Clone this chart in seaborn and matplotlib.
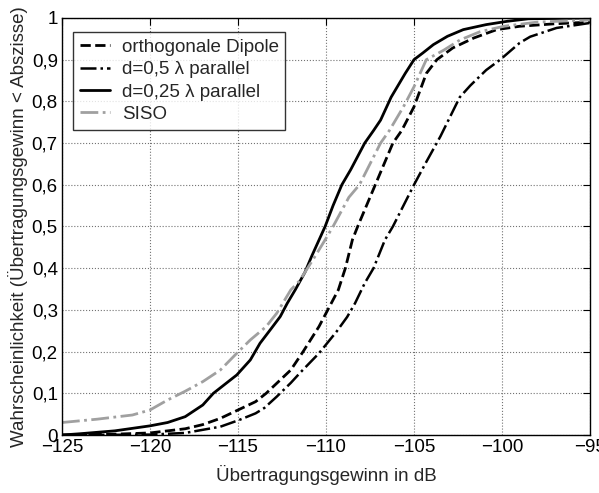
import numpy as np
import pandas as pd
import matplotlib
matplotlib.use("Agg")
import matplotlib.pyplot as plt
import seaborn as sns

# ---- data ----
orth_x = [-125, -122, -120, -118, -117, -116, -115, -114, -113.4, -112.0, -111.3, -110.4,
          -109.8, -109.3, -108.9, -108.5, -108.2, -107.8, -107.2, -106.2,
          -105.7, -105.0, -104.3, -103.7, -102.8, -101.6, -100.3, -99.0, -97, -95]
orth_y = [0.0, 0.002, 0.005, 0.015, 0.025, 0.04, 0.06, 0.08, 0.10, 0.156, 0.20, 0.26,
          0.308, 0.348, 0.40, 0.468, 0.50, 0.54, 0.60, 0.70,
          0.73, 0.787, 0.867, 0.90, 0.928, 0.952, 0.972, 0.98, 0.986, 0.99]

d05_x = [-125, -120, -118, -116, -115, -114.7, -114, -113.5, -112.8, -112, -111.5, -110.4,
         -109.4, -108.8, -108.35, -107.8, -107.3, -106.65, -106.2, -105.6, -105.0, -104.3,
         -103.5, -102.4, -101.8, -100.9, -100.1, -99.0, -98.4, -96.9, -95]
d05_y = [0.0, 0.001, 0.005, 0.02, 0.035, 0.04, 0.052, 0.065, 0.092, 0.125, 0.148, 0.196,
         0.248, 0.283, 0.316, 0.364, 0.40, 0.468, 0.50, 0.55, 0.60, 0.655,
         0.716, 0.81, 0.838, 0.875, 0.90, 0.94, 0.955, 0.976, 0.988]

d025_x = [-125, -124, -122, -120, -119, -118, -117, -116.4, -115.07, -114.3, -113.75, -113.1,
          -112.6, -112.2, -111.75, -111.2, -110.8, -110.05, -109.6, -109.1, -108.6, -107.8,
          -107.3, -106.9, -106.3, -105.5, -105.0, -104.5, -103.9, -103.1, -102.2, -100.9,
          -99.7, -98.5, -95]
d025_y = [0.0, 0.003, 0.01, 0.022, 0.03, 0.044, 0.072, 0.10, 0.144, 0.18, 0.22, 0.256,
          0.284, 0.316, 0.348, 0.39, 0.43, 0.50, 0.55, 0.60, 0.636, 0.70,
          0.73, 0.755, 0.81, 0.867, 0.90, 0.916, 0.936, 0.956, 0.972, 0.984,
          0.992, 0.998, 1.0]

siso_x = [-125, -123, -122, -121, -120, -119, -118, -117, -116, -115.07, -114.3, -113.4,
          -112.8, -112.0, -111.5, -110.6, -110.05, -109.6, -108.7, -108.1, -106.9, -106.4,
          -105.6, -105.0, -104.3, -103.3, -102.4, -101.25, -99.9, -98, -95]
siso_y = [0.03, 0.038, 0.043, 0.048, 0.06, 0.084, 0.105, 0.128, 0.156, 0.196, 0.228, 0.26,
          0.292, 0.348, 0.37, 0.43, 0.468, 0.50, 0.57, 0.60, 0.70, 0.73,
          0.787, 0.835, 0.90, 0.923, 0.947, 0.967, 0.98, 0.99, 0.995]

labels = ["orthogonale Dipole", "d=0,5 \u03bb parallel", "d=0,25 \u03bb parallel", "SISO"]
x_ticks = [-125, -120, -115, -110, -105, -100, -95]
y_ticks = [0, 0.1, 0.2, 0.3, 0.4, 0.5, 0.6, 0.7, 0.8, 0.9, 1.0]

# ---- plot ----
sns.set_style("white")
plt.rcParams['font.family'] = ['Liberation Sans', 'DejaVu Sans']
plt.rcParams['axes.unicode_minus'] = True
FS = 13.5

fig = plt.figure(figsize=(5.99, 4.93), dpi=100)
ax = fig.add_axes([0.1035, 0.1176, 0.8815, 0.846])

series = [
    (orth_x, orth_y, dict(color='black', linestyle='--', linewidth=2.0)),
    (d05_x, d05_y, dict(color='black', linestyle='-.', linewidth=1.8)),
    (d025_x, d025_y, dict(color='black', linestyle='-', linewidth=2.0)),
    (siso_x, siso_y, dict(color='#a0a0a0', linestyle='-.', linewidth=2.0)),
]
for (xs, ys, st), lab in zip(series, labels):
    df = pd.DataFrame({"x": xs, "y": ys})
    sns.lineplot(data=df, x="x", y="y", ax=ax, sort=False, estimator=None,
                 label=lab, **st)

ax.set_xlim(-125, -95)
ax.set_ylim(0, 1)
ax.set_xticks(x_ticks)
ax.set_xticklabels([("\u2212%d" % abs(v)) if v < 0 else str(v) for v in x_ticks])
ax.set_yticks(y_ticks)
ax.set_yticklabels(["0" if v == 0 else ("1" if v == 1 else ("%.1f" % v).replace('.', ','))
                    for v in y_ticks])
ax.tick_params(direction='in', length=5, width=0.8, top=True, right=True,
               labelsize=FS, colors='black', pad=3)
ax.grid(True, linestyle=':', color='0.45', linewidth=0.8)
for s in ax.spines.values():
    s.set_color('black')
    s.set_linewidth(1.0)

ax.set_xlabel("\u00dcbertragungsgewinn in dB", fontsize=FS, labelpad=6)
ax.set_ylabel("Wahrscheinlichkeit (\u00dcbertragungsgewinn < Abszisse)", fontsize=FS, labelpad=3)

leg = ax.legend(loc='upper left', bbox_to_anchor=(0.021, 0.966), fontsize=FS,
                frameon=True, fancybox=False, handlelength=1.6, handletextpad=0.64,
                borderpad=0.35, labelspacing=0.28, borderaxespad=0)
leg.get_frame().set_edgecolor('black')
leg.get_frame().set_linewidth(1.0)

fig.savefig("out.png", dpi=100)
